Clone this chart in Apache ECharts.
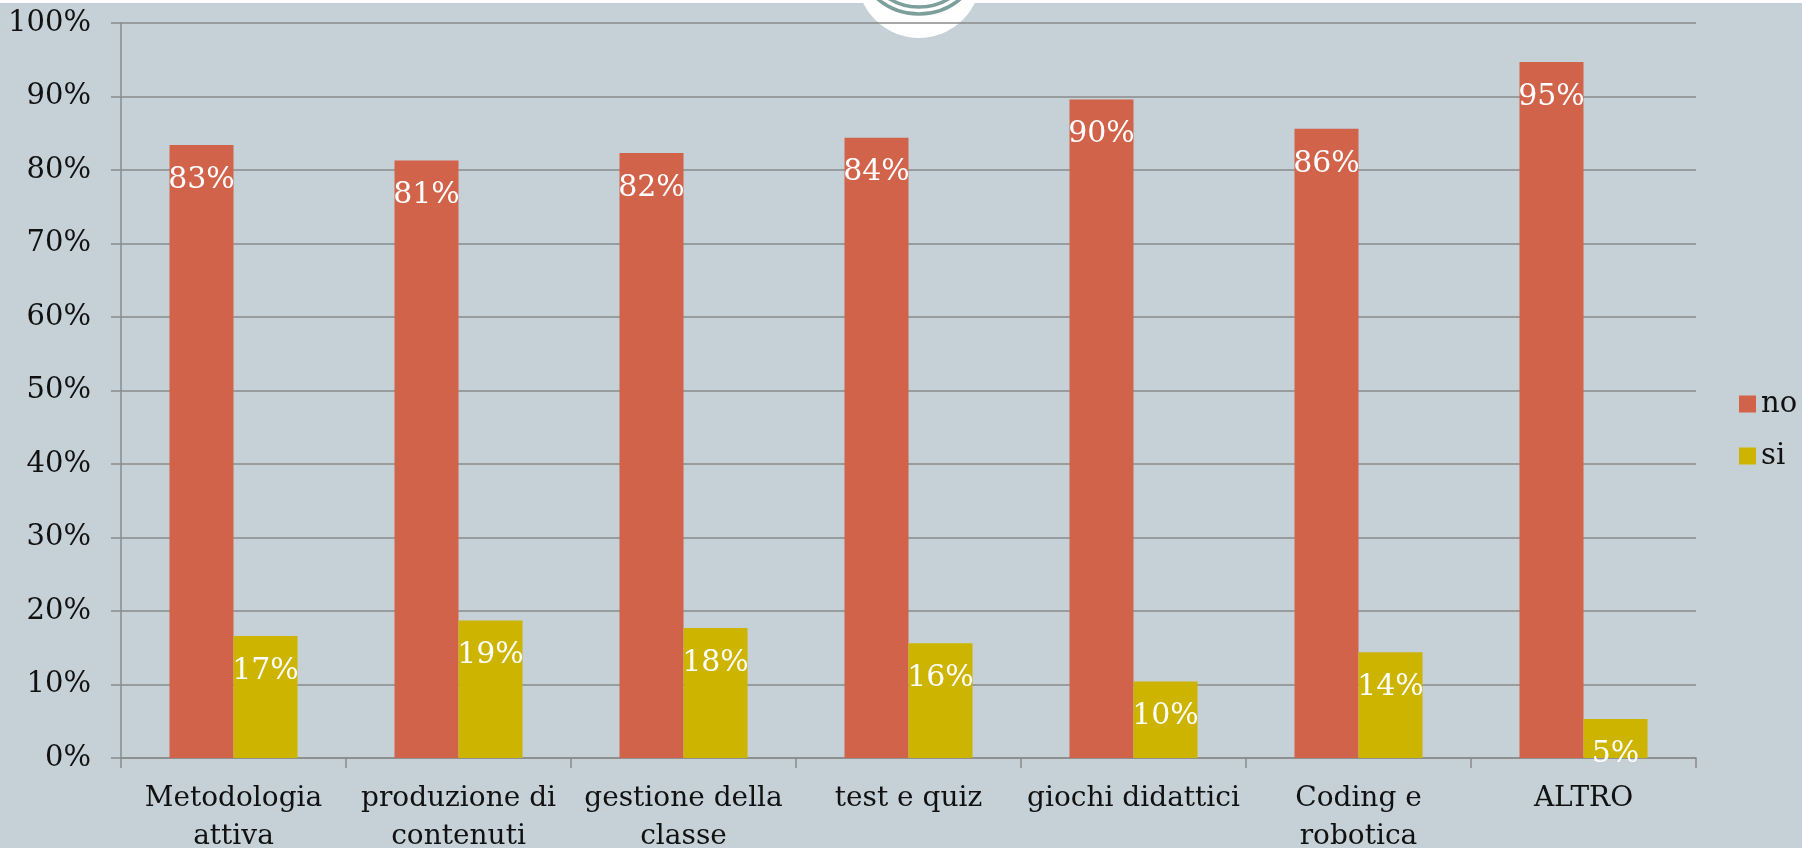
<!DOCTYPE html>
<html>
<head>
<meta charset="utf-8">
<script src="https://cdn.jsdelivr.net/npm/echarts@6/dist/echarts.min.js"></script>
<style>
  html, body { margin: 0; padding: 0; background: #c5d1d7; }
  #chart { width: 1802px; height: 848px; }
</style>
</head>
<body>
<div id="chart"></div>
<script>
// categorie e valori (percentuali)
var categories = ['Metodologia attiva', 'produzione di contenuti', 'gestione della classe', 'test e quiz', 'giochi didattici', 'Coding e robotica', 'ALTRO'];
var seriesNames = ['no', 'si'];
var noValues = [83.4, 81.3, 82.3, 84.4, 89.6, 85.6, 94.7];
var siValues = [16.6, 18.7, 17.7, 15.6, 10.4, 14.4, 5.3];
var yTicks = [0, 10, 20, 30, 40, 50, 60, 70, 80, 90, 100];

var FONT = '"DejaVu Serif", "Liberation Serif", serif';
var colors = ['#d1634a', '#cdb400'];

// a capo per parole, come fa Excel sotto l'asse
var measureCtx = document.createElement('canvas').getContext('2d');
function wrapLabel(text) {
    measureCtx.font = '28px ' + FONT;
    var words = text.split(' ');
    var lines = [];
    var cur = '';
    for (var i = 0; i < words.length; i++) {
        var test = cur ? cur + ' ' + words[i] : words[i];
        if (cur && measureCtx.measureText(test).width > 222) {
            lines.push(cur);
            cur = words[i];
        } else {
            cur = test;
        }
    }
    lines.push(cur);
    return lines.join('\n');
}

var chart = echarts.init(document.getElementById('chart'));

function barLabel() {
    return {
        show: true,
        position: 'insideTop',
        distance: 20,
        color: '#fff',
        fontFamily: FONT,
        fontSize: 30,
        formatter: function (p) { return Math.round(p.value) + '%'; }
    };
}

var option = {
    backgroundColor: '#c5d1d7',
    color: colors,
    animation: false,
    grid: { left: 121, right: 106, top: 23, bottom: 90, containLabel: false, outerBoundsMode: 'none' },
    legend: {
        orient: 'vertical',
        left: 1739,
        top: 389,
        padding: 0,
        icon: 'rect',
        itemWidth: 17,
        itemHeight: 17,
        itemGap: 22,
        data: seriesNames,
        textStyle: { fontFamily: FONT, fontSize: 29, lineHeight: 30, color: '#111' }
    },
    xAxis: {
        type: 'category',
        data: categories,
        axisLine: { lineStyle: { color: '#8a8a8a', width: 1.5 } },
        axisTick: { show: true, length: 10, lineStyle: { color: '#8a8a8a', width: 1.5 } },
        axisLabel: {
            margin: 22,
            interval: 0,
            color: '#111',
            fontFamily: FONT,
            fontSize: 28,
            lineHeight: 38,
            formatter: wrapLabel
        }
    },
    yAxis: {
        type: 'value',
        min: yTicks[0],
        max: yTicks[yTicks.length - 1],
        interval: 10,
        axisLine: { show: true, lineStyle: { color: '#8a8a8a', width: 1.5 } },
        axisTick: { show: true, length: 10, lineStyle: { color: '#8a8a8a', width: 1.5 } },
        splitLine: { lineStyle: { color: '#8a8a8a', width: 1.5 } },
        axisLabel: {
            margin: 30,
            color: '#111',
            fontFamily: FONT,
            fontSize: 29,
            formatter: '{value}%'
        }
    },
    series: [
        {
            name: seriesNames[0],
            type: 'bar',
            data: noValues,
            barWidth: 64,
            barGap: '0%',
            label: barLabel()
        },
        {
            name: seriesNames[1],
            type: 'bar',
            data: siValues,
            barWidth: 64,
            barGap: '0%',
            label: barLabel()
        }
    ],
    // fascia bianca in alto e logo semicircolare
    graphic: [
        { type: 'rect', z: -10, shape: { x: 0, y: 0, width: 1802, height: 3 }, style: { fill: '#ffffff' } },
        { type: 'circle', z: -10, shape: { cx: 919, cy: -24, r: 62 }, style: { fill: '#ffffff' } },
        { type: 'circle', z: -9, shape: { cx: 919, cy: -50, r: 64 }, style: { fill: 'none', stroke: '#7d9f9b', lineWidth: 3.5 } },
        { type: 'circle', z: -9, shape: { cx: 919, cy: -50, r: 57 }, style: { fill: 'none', stroke: '#7d9f9b', lineWidth: 3.5 } }
    ]
};

chart.setOption(option);
</script>
</body>
</html>
